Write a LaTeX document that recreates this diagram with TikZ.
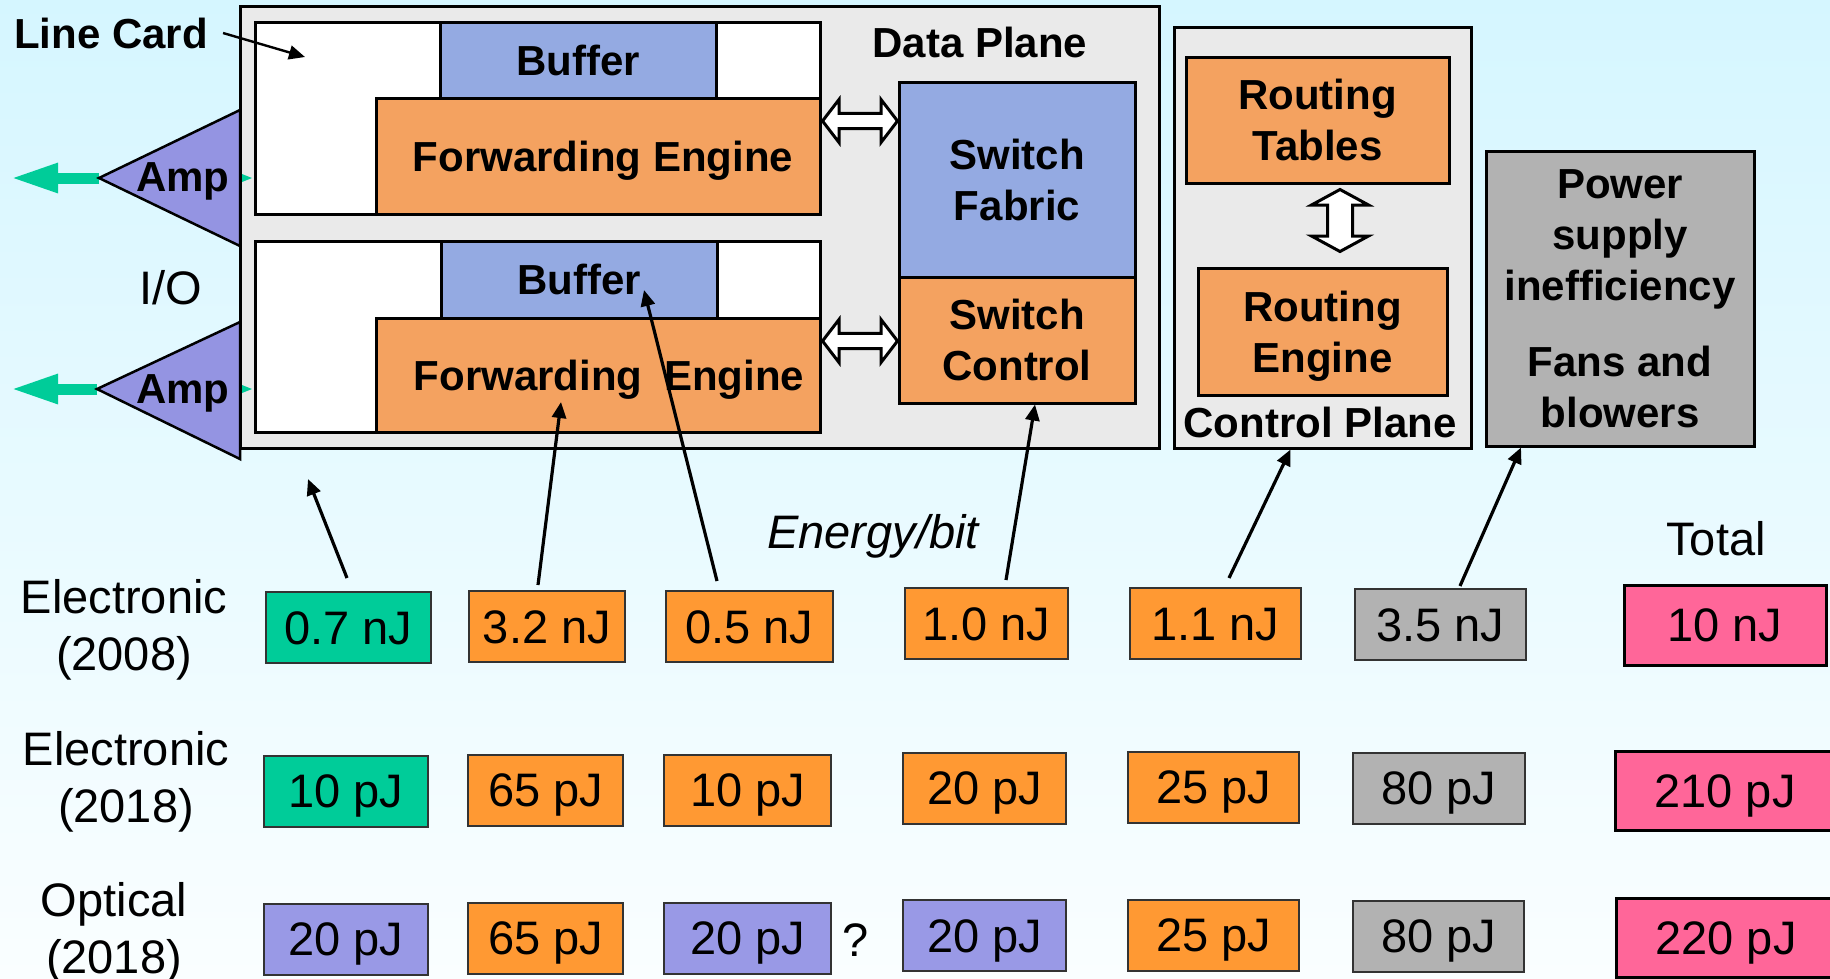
\documentclass[tikz,border=0pt]{standalone}
\usepackage{fontspec}
\setmainfont{Liberation Sans}
\usetikzlibrary{arrows.meta}
\definecolor{bgtop}{RGB}{213,246,255}
\definecolor{bgbottom}{RGB}{250,254,255}
\definecolor{planegray}{RGB}{234,234,234}
\definecolor{bufblue}{RGB}{148,170,226}
\definecolor{engorange}{RGB}{244,162,96}
\definecolor{ampviolet}{RGB}{148,148,226}
\definecolor{iogreen}{RGB}{0,204,153}
\definecolor{valorange}{RGB}{255,153,51}
\definecolor{valviolet}{RGB}{153,153,230}
\definecolor{valgray}{RGB}{178,178,178}
\definecolor{valpink}{RGB}{255,102,153}
\newcommand{\boldbig}{\fontsize{42}{51}\selectfont\bfseries}
\newcommand{\plainbig}{\fontsize{47}{57}\selectfont}

\begin{document}
\begin{tikzpicture}[line cap=round,line join=round,x=1pt,y=-1pt,>={Triangle[length=16pt,width=14pt]},
blk/.style={draw,line width=3pt,line join=miter,inner sep=0pt,outer sep=0pt,font=\boldbig,align=center,text depth=0pt},
val/.style={draw=black!80,line width=2pt,line join=miter,inner sep=0pt,outer sep=0pt,minimum height=71pt,font=\plainbig,text height=33pt,text depth=0pt},
tot/.style={val,draw=black,line width=3pt,fill=valpink,minimum height=80pt},
lbl/.style={inner sep=0pt,font=\plainbig,align=center,text depth=0pt},
hd/.style={inner sep=0pt,font=\boldbig,text depth=0pt},
fat/.style={draw,fill=white,line width=3pt,line join=miter},
ptr/.style={->,line width=3.2pt,line cap=butt}]
\useasboundingbox (0,0) rectangle (1830,978);
\shade[top color=bgtop,bottom color=bgbottom] (0,0) rectangle (1830,978);

\coordinate (amptip1) at (99,178);
\coordinate (amptip2) at (97,389);
\coordinate (g1) at (10,178);
\coordinate (g2) at (10,389);
\draw[iogreen,line width=11pt,line cap=butt,-{Triangle[length=48pt,width=27pt]}] (amptip1) -- (g1);
\draw[iogreen,line width=11pt,line cap=butt,-{Triangle[length=48pt,width=27pt]}] (amptip2) -- (g2);

\node[blk,fill=planegray,minimum width=919pt,minimum height=442pt] (dp) at (699.5,227) {};
\node[blk,fill=planegray,minimum width=297pt,minimum height=421pt] (cp) at (1322.5,237.5) {};
\node[blk,fill=valgray,minimum width=268pt,minimum height=295pt] (pw) at (1620,298.5) {Power\\supply\\inefficiency\\[25pt]Fans and\\blowers};

\node[blk,fill=white,minimum width=565pt,minimum height=192pt] (lc1) at (537.5,118) {};
\node[blk,fill=bufblue,minimum width=276pt,minimum height=76pt] (buf1) at (578,60) {Buffer};
\node[blk,fill=engorange,minimum width=444pt,minimum height=116pt] (fe1) at (598,156) {\hspace*{10pt}Forwarding Engine};
\node[blk,fill=white,minimum width=565pt,minimum height=191pt] (lc2) at (537.5,336.5) {};
\node[blk,fill=bufblue,minimum width=276pt,minimum height=77pt] (buf2) at (579,279.5) {Buffer};
\node[blk,fill=engorange,minimum width=444pt,minimum height=114pt] (fe2) at (598,375) {\hspace*{22pt}Forwarding\hspace{10pt} Engine};
\node[blk,fill=bufblue,minimum width=236pt,minimum height=195pt] (sf) at (1017,179.5) {Switch\\Fabric};
\node[blk,fill=engorange,minimum width=236pt,minimum height=126pt] (sc) at (1017,340) {Switch\\Control};
\node[blk,fill=engorange,minimum width=263pt,minimum height=126pt] (rt) at (1317.5,120) {Routing\\Tables};
\node[blk,fill=engorange,minimum width=249pt,minimum height=127pt] (re) at (1322.5,331.5) {Routing\\Engine};

\draw[line width=2.5pt,line join=miter,fill=ampviolet] (240,110) -- (amptip1) -- (240,246) -- cycle;
\draw[line width=2.5pt,line join=miter,fill=ampviolet] (240,322) -- (amptip2) -- (240,459) -- cycle;
\fill[iogreen] (242,174) -- (252,178) -- (242,182) -- cycle;
\fill[iogreen] (242,385) -- (252,389) -- (242,393) -- cycle;
\node[hd] (amp1) at (183,177) {Amp};
\node[hd] (amp2) at (183,389) {Amp};

\coordinate (da1) at (822.5,121);
\coordinate (da2) at (822.5,341);
\coordinate (da3) at (1340,189.5);
\draw[fat] (da1) -- ++(16.5,-21.5) -- ++(0,13.8) -- ++(42,0) -- ++(0,-13.8) -- ++(16.5,21.5) -- ++(-16.5,21.5) -- ++(0,-13.8) -- ++(-42,0) -- ++(0,13.8) -- cycle;
\draw[fat] (da2) -- ++(16.5,-21.5) -- ++(0,13.8) -- ++(42,0) -- ++(0,-13.8) -- ++(16.5,21.5) -- ++(-16.5,21.5) -- ++(0,-13.8) -- ++(-42,0) -- ++(0,13.8) -- cycle;
\draw[fat] (da3) -- ++(28.5,15.5) -- ++(-16,0) -- ++(0,31) -- ++(16,0) -- ++(-28.5,15.5) -- ++(-28.5,-15.5) -- ++(16,0) -- ++(0,-31) -- ++(-16,0) -- cycle;

\node[hd] (lcl) at (111,33) {Line Card};
\node[hd] (dpl) at (980,42) {Data Plane};
\node[hd] (cpl) at (1320,422) {Control Plane};
\node[lbl] (io) at (171,287) {I/O};

\node[lbl,font=\plainbig\itshape] (eb) at (873,531) {Energy/bit};
\node[lbl] (tt) at (1716,538) {Total};
\node[lbl] (r1) at (124,625) {Electronic\\(2008)};
\node[lbl] (r2) at (126,777) {Electronic\\(2018)};
\node[lbl] (r3) at (114,928) {Optical\\(2018)};
\node[lbl] (q) at (856,940) {?};

\node[val,fill=iogreen,minimum width=165pt] (e1a) at (348.5,627.5) {0.7 nJ};
\node[val,fill=valorange,minimum width=156pt] (e1b) at (547,626.5) {3.2 nJ};
\node[val,fill=valorange,minimum width=167pt] (e1c) at (749.5,626.5) {0.5 nJ};
\node[val,fill=valorange,minimum width=163pt] (e1d) at (986.5,623.5) {1.0 nJ};
\node[val,fill=valorange,minimum width=171pt] (e1e) at (1215.5,623.5) {1.1 nJ};
\node[val,fill=valgray,minimum width=171pt] (e1f) at (1440.5,624.5) {3.5 nJ};
\node[tot,minimum width=202pt] (e1t) at (1725,625) {10 nJ};

\node[val,fill=iogreen,minimum width=164pt] (e2a) at (346,791) {10 pJ};
\node[val,fill=valorange,minimum width=155pt] (e2b) at (545.5,790) {65 pJ};
\node[val,fill=valorange,minimum width=167pt] (e2c) at (747.5,790) {10 pJ};
\node[val,fill=valorange,minimum width=163pt] (e2d) at (984.5,788) {20 pJ};
\node[val,fill=valorange,minimum width=171pt] (e2e) at (1213.5,787) {25 pJ};
\node[val,fill=valgray,minimum width=172pt] (e2f) at (1439,788) {80 pJ};
\node[tot,minimum width=220pt,minimum height=79pt] (e2t) at (1725,790.5) {210 pJ};

\node[val,fill=valviolet,minimum width=164pt] (o3a) at (346,939) {20 pJ};
\node[val,fill=valorange,minimum width=155pt] (o3b) at (545.5,938) {65 pJ};
\node[val,fill=valviolet,minimum width=167pt] (o3c) at (747.5,938) {20 pJ};
\node[val,fill=valviolet,minimum width=163pt] (o3d) at (984.5,935.5) {20 pJ};
\node[val,fill=valorange,minimum width=171pt] (o3e) at (1213.5,935) {25 pJ};
\node[val,fill=valgray,minimum width=171pt] (o3f) at (1438.5,936) {80 pJ};
\node[tot,minimum width=220pt,minimum height=79pt] (o3t) at (1726,937.5) {220 pJ};

\coordinate (lcp) at (305,57);
\coordinate (p1) at (308,479);
\coordinate (p2) at (561,402);
\coordinate (p3) at (644,290);
\draw[ptr,line width=2.4pt] ([xshift=15pt]lcl.east) -- (lcp);
\draw[ptr] ([xshift=-1.5pt,yshift=14pt]e1a.north) -- (p1);
\draw[ptr] ([xshift=-9pt,yshift=6pt]e1b.north) -- (p2);
\draw[ptr] ([xshift=-32.5pt,yshift=10pt]e1c.north) -- (p3);
\draw[ptr] ([xshift=19.5pt,yshift=8pt]e1d.north) -- ([xshift=18pt,yshift=-1.5pt]sc.south);
\draw[ptr] ([xshift=13.5pt,yshift=10pt]e1e.north) -- ([xshift=-32pt,yshift=-1.5pt]cp.south);
\draw[ptr] ([xshift=19.5pt,yshift=3pt]e1f.north) -- ([xshift=-99pt,yshift=-1.5pt]pw.south);
\end{tikzpicture}
\end{document}
